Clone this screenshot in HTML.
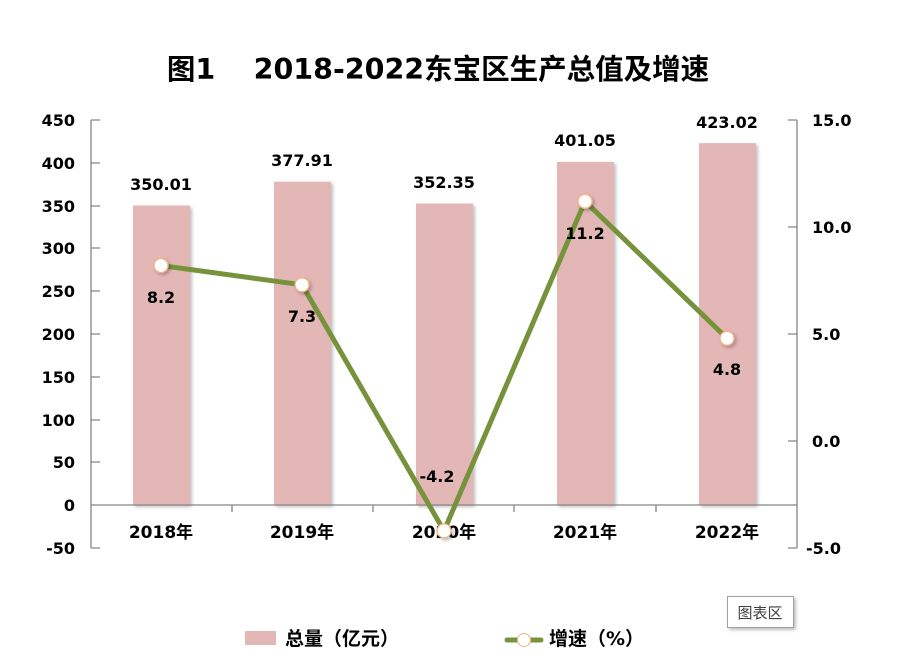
<!DOCTYPE html>
<html><head><meta charset="utf-8"><style>
body{margin:0;background:#fff;}
svg text{font-family:"DejaVu Sans","Noto Sans CJK SC",sans-serif;font-weight:bold;fill:#000;}
</style></head><body>
<svg width="909" height="666" viewBox="0 0 909 666" xmlns="http://www.w3.org/2000/svg">
<defs><filter id="sh" x="-20%" y="-20%" width="150%" height="150%"><feDropShadow dx="2" dy="2" stdDeviation="1.5" flood-color="#000" flood-opacity="0.25"/></filter></defs>
<text x="438" y="79" font-size="28.5" text-anchor="middle">图1　 2018-2022东宝区生产总值及增速</text>
<g fill="#e4b7b7" filter="url(#sh)">
<rect x="133" y="205.5" width="57" height="299.5"/>
<rect x="274" y="181.7" width="57" height="323.3"/>
<rect x="416" y="203.5" width="57" height="301.5"/>
<rect x="557" y="161.9" width="57" height="343.1"/>
<rect x="699" y="143.1" width="57" height="361.9"/>
</g>
<g stroke="#868686" stroke-width="1.3" fill="none">
<line x1="91" y1="120" x2="91" y2="548"/>
<line x1="797" y1="120" x2="797" y2="548"/>
<line x1="91" y1="505" x2="797" y2="505"/>
<path d="M91 120h9M91 163h9M91 206h9M91 248h9M91 291h9M91 334h9M91 377h9M91 420h9M91 462h9M91 548h9"/>
<path d="M797 120h-9M797 227h-9M797 334h-9M797 441h-9M797 548h-9"/>
<path d="M232 505v7M373 505v7M514 505v7M656 505v7"/>
</g>
<g font-size="16" text-anchor="end">
<text x="75" y="126">450</text><text x="75" y="169">400</text><text x="75" y="212">350</text><text x="75" y="254">300</text><text x="75" y="297">250</text><text x="75" y="340">200</text><text x="75" y="383">150</text><text x="75" y="426">100</text><text x="75" y="468">50</text><text x="75" y="511">0</text><text x="75" y="554">-50</text>
</g>
<g font-size="16">
<text x="812" y="126">15.0</text><text x="812" y="233">10.0</text><text x="812" y="340">5.0</text><text x="812" y="447">0.0</text><text x="806" y="554">-5.0</text>
</g>
<g font-size="17" text-anchor="middle">
<text x="161" y="538">2018年</text><text x="302" y="538">2019年</text><text x="444" y="538">2020年</text><text x="585" y="538">2021年</text><text x="727" y="538">2022年</text>
</g>
<g font-size="16" text-anchor="middle">
<text x="161" y="190">350.01</text><text x="302" y="166">377.91</text><text x="444" y="188">352.35</text><text x="585" y="146">401.05</text><text x="727" y="128">423.02</text>
</g>
<polyline points="161,265.5 302,284.8 444,530.9 585,201.3 727,338.3" fill="none" stroke="#76933c" stroke-width="5" stroke-linejoin="round"/>
<g fill="#fff" stroke="#f4b183" stroke-width="1.3" filter="url(#sh)">
<circle cx="161" cy="265.5" r="7"/><circle cx="302" cy="284.8" r="7"/><circle cx="444" cy="530.9" r="7"/><circle cx="585" cy="201.3" r="7"/><circle cx="727" cy="338.3" r="7"/>
</g>
<g font-size="16" text-anchor="middle">
<text x="161" y="303">8.2</text><text x="302" y="322">7.3</text><text x="437" y="482">-4.2</text><text x="585" y="239">11.2</text><text x="727" y="375">4.8</text>
</g>
<rect x="727.5" y="596.5" width="66" height="31" fill="#fff" stroke="#a0a0a0" filter="url(#sh)"/>
<text x="760" y="618" font-size="15" text-anchor="middle" style="font-weight:normal;fill:#404040">图表区</text>
<rect x="245" y="631" width="31" height="14" fill="#e4b7b7"/>
<text x="285" y="645" font-size="19">总量（亿元）</text>
<line x1="507" y1="640" x2="541" y2="640" stroke="#76933c" stroke-width="5" stroke-linecap="round"/>
<circle cx="524" cy="640" r="6.5" fill="#fff" stroke="#f4b183"/>
<text x="549" y="645" font-size="19">增速（%）</text>
</svg>
</body></html>
